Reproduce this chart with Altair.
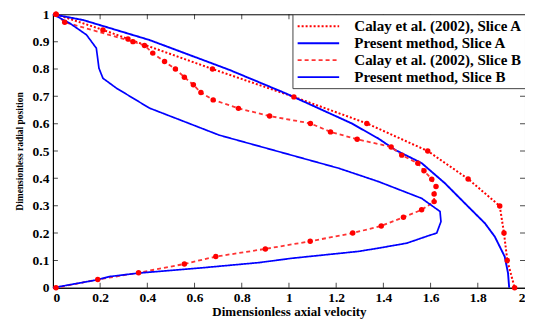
import altair as alt
import pandas as pd

S1 = "Calay et al. (2002), Slice A"
S2 = "Present method, Slice A"
S3 = "Calay et al. (2002), Slice B"
S4 = "Present method, Slice B"

calayA_x = [0.013, 0.212, 0.318, 0.676, 1.021, 1.33, 1.588, 1.759, 1.893, 1.911, 1.925, 1.956]
calayA_y = [1.0, 0.943, 0.91, 0.80, 0.698, 0.601, 0.50, 0.398, 0.299, 0.20, 0.10, 0.0]

presA_x = [0.0, 0.128, 0.409, 0.747, 0.986, 1.266, 1.38, 1.45, 1.562, 1.661, 1.745, 1.83, 1.872, 1.914, 1.928, 1.933]
presA_y = [1.0, 0.979, 0.906, 0.797, 0.711, 0.601, 0.545, 0.504, 0.456, 0.382, 0.309, 0.236, 0.187, 0.114, 0.054, 0.0]

calayB_x = [0.013, 0.05, 0.339, 0.388, 0.423, 0.473, 0.519, 0.557, 0.595, 0.627, 0.679, 0.786, 0.918, 1.091, 1.176, 1.289, 1.433, 1.478, 1.546, 1.572, 1.605, 1.623, 1.615, 1.615, 1.562, 1.485, 1.391, 1.27, 1.09, 0.90, 0.69, 0.557, 0.363, 0.19, 0.013]
calayB_y = [1.0, 0.971, 0.90, 0.886, 0.858, 0.827, 0.80, 0.77, 0.742, 0.714, 0.687, 0.656, 0.628, 0.601, 0.57, 0.543, 0.515, 0.485, 0.455, 0.428, 0.397, 0.37, 0.343, 0.315, 0.285, 0.258, 0.226, 0.20, 0.17, 0.142, 0.114, 0.087, 0.055, 0.03, 0.0]

presB_x = [0.0, 0.072, 0.142, 0.184, 0.195, 0.212, 0.269, 0.409, 0.705, 1.211, 1.38, 1.562, 1.64, 1.644, 1.626, 1.59, 1.499, 1.38, 1.295, 1.014, 0.873, 0.62, 0.367, 0.24, 0.188, 0.0]
presB_y = [1.0, 0.967, 0.925, 0.876, 0.803, 0.766, 0.73, 0.657, 0.558, 0.437, 0.388, 0.327, 0.279, 0.242, 0.20, 0.19, 0.163, 0.145, 0.133, 0.108, 0.092, 0.072, 0.054, 0.041, 0.029, 0.0]

x_ticks = [0, 0.2, 0.4, 0.6, 0.8, 1, 1.2, 1.4, 1.6, 1.8, 2]
y_ticks = [0, 0.1, 0.2, 0.3, 0.4, 0.5, 0.6, 0.7, 0.8, 0.9, 1]

rows = []
for name, xs_, ys_ in [(S1, calayA_x, calayA_y), (S2, presA_x, presA_y),
                       (S3, calayB_x, calayB_y), (S4, presB_x, presB_y)]:
    for i, (a, b) in enumerate(zip(xs_, ys_)):
        rows.append({"series": name, "x": a, "y": b, "order": i})
df = pd.DataFrame(rows)

W, H = 473, 274
FONT = "Liberation Serif"
domain = [S1, S2, S3, S4]

xs = alt.Scale(domain=[0, 2], nice=False)
ys = alt.Scale(domain=[0, 1], nice=False)
xaxis = alt.Axis(values=x_ticks, title="Dimensionless axial velocity",
                 format="~g", tickSize=0, labelPadding=3, labelOverlap=False)
yaxis = alt.Axis(values=y_ticks, title="Dimensionless radial position",
                 format="~g", tickSize=0, labelPadding=4, labelOverlap=False)

base = alt.Chart(df)

lines = base.mark_line().encode(
    x=alt.X("x:Q", scale=xs, axis=xaxis),
    y=alt.Y("y:Q", scale=ys, axis=yaxis),
    color=alt.Color("series:N", scale=alt.Scale(domain=domain, range=["#ff0000", "#0000ff", "#ff3333", "#0000ff"]),
                    legend=alt.Legend(title=None)),
    strokeDash=alt.StrokeDash("series:N", scale=alt.Scale(domain=domain, range=[[2, 2], [1, 0], [4, 3], [1, 0]]),
                              legend=alt.Legend(title=None)),
    strokeWidth=alt.StrokeWidth("series:N", scale=alt.Scale(domain=domain, range=[2, 1.7, 1, 1.7]),
                                legend=alt.Legend(title=None)),
    order="order:Q",
    detail="series:N",
)

pts = base.transform_filter(
    alt.FieldOneOfPredicate(field="series", oneOf=[S1, S3])
).mark_circle(size=30, color="#ff0000", opacity=1).encode(
    x=alt.X("x:Q", scale=xs, axis=xaxis),
    y=alt.Y("y:Q", scale=ys, axis=yaxis),
)

xt = pd.DataFrame({"x": x_ticks[1:-1]})
yt = pd.DataFrame({"y": y_ticks[1:-1]})
tk = dict(size=10, thickness=1, color="black", clip=True)
tick_bottom = alt.Chart(xt).mark_tick(orient="vertical", **tk).encode(
    x=alt.X("x:Q", scale=xs, axis=xaxis), y=alt.value(H))
tick_top = alt.Chart(xt).mark_tick(orient="vertical", **tk).encode(
    x=alt.X("x:Q", scale=xs, axis=xaxis), y=alt.value(0))
tick_left = alt.Chart(yt).mark_tick(orient="horizontal", **tk).encode(
    y=alt.Y("y:Q", scale=ys, axis=yaxis), x=alt.value(0))
tick_right = alt.Chart(yt).mark_tick(orient="horizontal", **tk).encode(
    y=alt.Y("y:Q", scale=ys, axis=yaxis), x=alt.value(W))

chart = alt.layer(lines, pts, tick_bottom, tick_top, tick_left, tick_right).properties(
    width=W, height=H,
    autosize=alt.AutoSizeParams(type="none"),
    padding={"left": 45, "top": 6, "right": 0, "bottom": 33},
).configure_view(stroke="black", strokeWidth=1).configure_axis(
    grid=False, domainColor="black", labelFont=FONT, labelFontWeight="bold", labelFontSize=13.5,
    labelColor="black", titleFont=FONT, titleFontWeight="bold", titleColor="black",
).configure_axisX(titleFontSize=13, titlePadding=1).configure_axisY(titleFontSize=9.5, titlePadding=8).configure_legend(
    orient="top-right", offset=0, strokeColor="#444", fillColor="white", padding=3,
    labelFont=FONT, labelFontWeight="bold", labelFontSize=15, labelColor="black",
    symbolType="M-2.6,0H2.6", symbolSize=256, symbolOffset=14, rowPadding=0, labelLimit=300, labelOffset=27,
)

chart.save("out.html", embed_options={"renderer": "svg", "actions": False})
